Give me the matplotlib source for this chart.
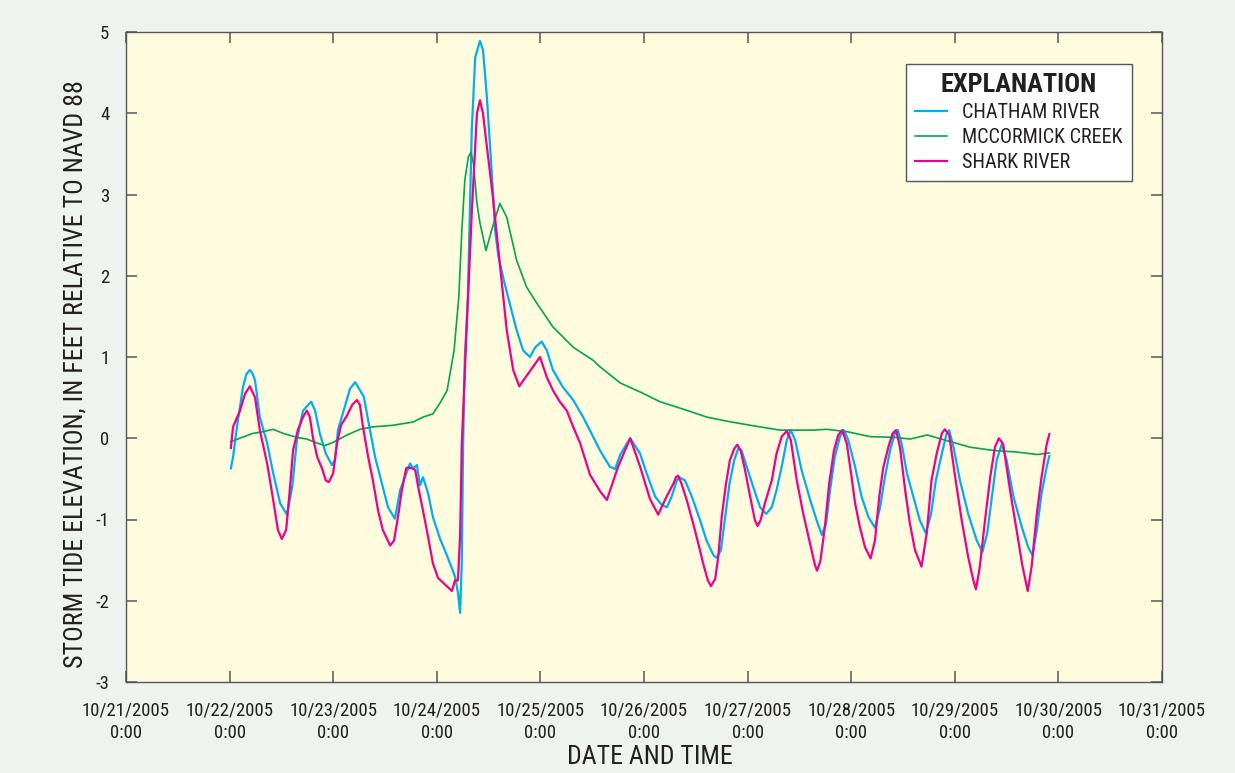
import matplotlib
matplotlib.use("Agg")
import matplotlib.pyplot as plt
import pandas as pd
from matplotlib import font_manager

# ---------------- data (hours after 10/22/2005 0:00, feet NAVD 88) ----------------
chatham_hours = [0.3, 0.8, 1.7, 3.1, 3.9, 4.7, 5.3, 5.9, 7.0, 8.7, 10.1, 11.7, 13.3, 14.5, 15.6, 17.0,
                 18.9, 19.8, 20.9, 22.3, 23.7, 24.4, 25.1, 26.7, 27.9, 29.1, 30.2, 31.1, 32.1, 33.7,
                 35.3, 36.7, 38.3, 39.5, 40.6, 41.8, 42.5, 43.4, 44.1, 44.8, 46.0, 47.1, 48.7, 50.4,
                 51.5, 52.2, 52.9, 53.4, 53.8, 54.1, 54.5, 55.2, 56.1, 56.9, 58.0, 58.7, 59.6, 60.7,
                 61.5, 62.3, 63.5, 64.5, 66.5, 68.0, 69.6, 70.8, 72.3, 73.5, 74.9, 77.2, 79.6, 81.9,
                 84.2, 85.8, 88.1, 89.3, 90.5, 92.8,
                 95.1, 96.6, 98.6, 100.1, 101.3, 102.4, 103.6, 104.2, 105.5, 107.1, 109.0, 110.5,
                 112.1, 112.8, 113.8, 114.8, 115.8, 116.9, 117.8, 118.6, 119.8, 121.3, 122.9, 124.3,
                 125.6, 126.7, 127.9, 129.1, 130.0, 131.0, 132.5, 134.5, 136.0, 137.2, 138.2, 139.1,
                 140.2, 141.4, 142.3, 143.3, 144.9, 146.4, 148.0, 149.5, 150.7, 151.8, 153.0, 154.1,
                 154.8, 155.7, 156.9, 158.4, 159.9, 161.3, 162.5, 163.6, 165.0, 166.1, 166.7, 167.7,
                 169.2, 171.1, 173.1, 174.4, 175.5, 176.6, 177.7, 178.9, 180.0, 181.6, 183.5, 185.0,
                 186.0, 187.0, 188.1, 189.3, 189.9]
chatham_ft = [-0.37, -0.23, 0.14, 0.63, 0.79, 0.84, 0.80, 0.71, 0.26, -0.06, -0.43, -0.80, -0.94,
              -0.60, -0.02, 0.34, 0.45, 0.34, 0.06, -0.19, -0.33, -0.27, 0.10, 0.39, 0.61, 0.69,
              0.59, 0.51, 0.22, -0.23, -0.56, -0.85, -0.99, -0.64, -0.48, -0.31, -0.37, -0.33,
              -0.58, -0.48, -0.68, -0.97, -1.23, -1.45, -1.60, -1.70, -1.90, -2.15, -1.50, -0.06,
              1.00, 1.74, 3.79, 4.69, 4.89, 4.78, 4.20, 3.30, 2.56, 2.23, 1.95, 1.74, 1.33, 1.08,
              1.00, 1.12, 1.19, 1.08, 0.84, 0.63, 0.47, 0.26, 0.02, -0.15, -0.35, -0.38, -0.20,
              0.00,
              -0.19, -0.43, -0.72, -0.82, -0.85, -0.72, -0.52, -0.48, -0.52, -0.72, -1.01, -1.26,
              -1.44, -1.47, -1.38, -0.97, -0.56, -0.27, -0.13, -0.15, -0.35, -0.60, -0.85, -0.93,
              -0.85, -0.64, -0.35, -0.02, 0.10, -0.02, -0.39, -0.76, -1.01, -1.19, -1.05, -0.64,
              -0.23, 0.02, 0.10, -0.02, -0.35, -0.72, -0.97, -1.10, -0.85, -0.48, -0.15, 0.06,
              0.10, -0.07, -0.43, -0.72, -1.01, -1.17, -0.93, -0.52, -0.19, 0.06, 0.10, -0.11,
              -0.52, -0.93, -1.26, -1.40, -1.17, -0.72, -0.27, -0.07, -0.27, -0.72, -1.09, -1.34,
              -1.44, -1.13, -0.68, -0.35, -0.22]

mccormick_hours = [0.3, 2.4, 5.4, 7.7, 10.1, 12.4, 15.6, 17.9, 20.3, 22.1, 24.0, 27.2, 30.2, 33.2,
                   37.9, 42.5, 44.8, 47.1, 48.7, 50.4, 52.0, 53.1, 53.8, 54.5, 55.3, 55.9, 56.5,
                   57.3, 58.0, 59.4, 60.7, 62.6, 64.2, 66.5, 68.8, 71.2, 74.9, 79.6, 84.2, 85.8,
                   90.5, 95.1, 99.7, 104.4, 110.6, 115.2, 120.6, 127.5, 135.2, 138.4, 143.1, 148.4,
                   154.4, 157.6, 161.6, 166.9, 171.5, 176.9, 182.4, 187.1, 189.9]
mccormick_ft = [-0.04, 0.00, 0.06, 0.08, 0.11, 0.06, 0.01, -0.01, -0.06, -0.09, -0.05, 0.04, 0.11,
                0.14, 0.16, 0.20, 0.26, 0.30, 0.43, 0.59, 1.08, 1.74, 2.56, 3.18, 3.46, 3.52, 3.38,
                2.89, 2.65, 2.31, 2.56, 2.89, 2.72, 2.19, 1.86, 1.66, 1.37, 1.12, 0.96, 0.88, 0.68,
                0.57, 0.45, 0.37, 0.26, 0.21, 0.16, 0.10, 0.10, 0.11, 0.08, 0.02, 0.01, -0.01, 0.04,
                -0.04, -0.11, -0.15, -0.17, -0.20, -0.18]

shark_hours = [0.3, 0.8, 2.4, 3.6, 4.7, 5.9, 7.0, 8.7, 10.1, 11.2, 12.1, 13.1, 14.0, 14.7, 15.8,
               17.0, 17.9, 18.6, 19.3, 20.3, 21.4, 22.3, 23.0, 24.0, 24.9, 25.8, 27.2, 28.4, 29.5,
               30.2, 30.9, 32.1, 33.2, 34.4, 35.5, 37.2, 38.1, 39.0, 39.9, 40.9, 41.3, 42.3, 43.0,
               43.7, 44.8, 46.0, 47.1, 48.3, 49.9, 51.5, 52.2, 52.9, 53.4, 53.8, 54.9, 56.1, 57.3,
               58.0, 58.7, 59.6, 61.0, 62.6, 64.2, 65.7, 67.1, 71.9, 73.5, 74.9, 76.5, 78.1, 79.6,
               81.2, 83.5, 85.8, 87.4, 90.0, 92.8,
               95.1, 97.4, 99.3, 100.5, 101.6, 102.8, 103.4, 103.9, 104.7, 105.9, 107.4, 108.6,
               109.7, 110.8, 111.5, 112.5, 113.2, 114.0, 115.0, 115.9, 116.9, 117.6, 118.4, 119.4,
               120.6, 121.7, 122.3, 123.0, 124.0, 125.6, 126.7, 127.9, 129.1, 130.0, 131.4, 132.9,
               134.5, 135.6, 136.1, 136.9, 137.9, 138.9, 140.0, 141.0, 141.9, 143.0, 144.1, 144.9,
               146.0, 147.2, 148.5, 149.5, 150.5, 151.4, 152.6, 153.6, 154.4, 155.3, 156.5, 157.6,
               158.8, 160.3, 161.5, 162.6, 163.8, 165.0, 165.7, 166.7, 168.1, 169.6, 171.1, 172.3,
               172.9, 173.8, 175.0, 176.2, 177.3, 178.2, 179.2, 180.8, 182.3, 183.7, 184.9, 185.8,
               187.0, 188.1, 189.3, 189.9]
shark_ft = [-0.12, 0.14, 0.34, 0.55, 0.64, 0.50, 0.10, -0.31, -0.76, -1.13, -1.24, -1.13, -0.60,
            -0.15, 0.10, 0.26, 0.34, 0.26, 0.01, -0.23, -0.37, -0.52, -0.54, -0.43, -0.06, 0.16,
            0.28, 0.41, 0.47, 0.41, 0.14, -0.23, -0.52, -0.89, -1.13, -1.32, -1.26, -0.97, -0.64,
            -0.37, -0.36, -0.37, -0.39, -0.60, -0.89, -1.22, -1.54, -1.72, -1.80, -1.88, -1.75,
            -1.75, -1.20, -0.06, 1.33, 2.77, 4.00, 4.16, 4.00, 3.59, 2.97, 2.15, 1.33, 0.84, 0.64,
            1.00, 0.75, 0.59, 0.45, 0.34, 0.14, -0.06, -0.45, -0.65, -0.76, -0.35, 0.00,
            -0.35, -0.75, -0.94, -0.80, -0.68, -0.56, -0.48, -0.46, -0.56, -0.76, -1.05, -1.30,
            -1.54, -1.75, -1.82, -1.73, -1.46, -0.97, -0.56, -0.27, -0.13, -0.08, -0.15, -0.39,
            -0.72, -1.01, -1.08, -1.01, -0.80, -0.52, -0.19, 0.02, 0.09, -0.02, -0.52, -0.93,
            -1.30, -1.56, -1.63, -1.50, -1.09, -0.56, -0.15, 0.04, 0.10, -0.07, -0.48, -0.80,
            -1.09, -1.34, -1.48, -1.26, -0.72, -0.37, -0.11, 0.06, 0.10, -0.11, -0.64, -1.05,
            -1.38, -1.58, -1.17, -0.52, -0.19, 0.06, 0.11, 0.04, -0.48, -1.01, -1.46, -1.75,
            -1.86, -1.58, -1.01, -0.48, -0.11, 0.00, -0.07, -0.64, -1.13, -1.58, -1.88, -1.58,
            -0.93, -0.48, -0.07, 0.05]

series_names = ["CHATHAM RIVER", "MCCORMICK CREEK", "SHARK RIVER"]
series_colors = ["#00AEEF", "#00A651", "#EC008C"]
tick_days = ["2005-10-21", "2005-10-22", "2005-10-23", "2005-10-24", "2005-10-25", "2005-10-26",
             "2005-10-27", "2005-10-28", "2005-10-29", "2005-10-30", "2005-10-31"]
tick_labels = ["10/21/2005\n0:00", "10/22/2005\n0:00", "10/23/2005\n0:00", "10/24/2005\n0:00",
               "10/25/2005\n0:00", "10/26/2005\n0:00", "10/27/2005\n0:00", "10/28/2005\n0:00",
               "10/29/2005\n0:00", "10/30/2005\n0:00", "10/31/2005\n0:00"]
y_ticks = [-3, -2, -1, 0, 1, 2, 3, 4, 5]

# ---------------- styling ----------------
avail = {f.name for f in font_manager.fontManager.ttflist}
fam = [f for f in ["Liberation Sans Narrow", "Roboto Condensed", "Roboto", "DejaVu Sans"] if f in avail]
plt.rcParams['font.family'] = fam + ["DejaVu Sans"]
text_color = "#231F20"

fig = plt.figure(figsize=(12.35, 7.73), dpi=100, facecolor="#EEF3EF")
ax = fig.add_axes([126/1235, 1 - 682/773, 1036/1235, 650/773])
ax.set_facecolor("#FEFBDF")

start = pd.Timestamp("2005-10-22 00:00")
data = [(chatham_hours, chatham_ft, 1.6), (mccormick_hours, mccormick_ft, 1.2), (shark_hours, shark_ft, 1.6)]
for (hrs, vals, lw), name, col in zip(data, series_names, series_colors):
    t = start + pd.to_timedelta(hrs, unit="h")
    ax.plot(t, vals, color=col, lw=lw, label=name, solid_joinstyle="round")

ticks = pd.to_datetime(tick_days)
ax.set_xlim(ticks[0], ticks[-1])
ax.set_xticks(ticks)
ax.set_xticklabels(tick_labels, fontsize=13.5, color=text_color, linespacing=1.3)
ax.set_ylim(-3, 5)
ax.set_yticks(y_ticks)
ax.set_yticklabels([str(v) for v in y_ticks], fontsize=13.5, color=text_color)
ax.tick_params(direction="in", length=8, width=1.1, top=True, right=True, color="#555555")
ax.tick_params(axis="x", pad=14)
ax.tick_params(axis="y", pad=12)
for s in ax.spines.values():
    s.set_color("#555555")
    s.set_linewidth(1.0)

ax.set_xlabel("DATE AND TIME", fontsize=18.5, color=text_color)
ax.xaxis.set_label_coords(0.506, -0.097)
ax.set_ylabel("STORM TIDE ELEVATION, IN FEET RELATIVE TO NAVD 88", fontsize=18.7,
              color=text_color)
ax.yaxis.set_label_coords(-0.037, 0.474)

leg = ax.legend(loc="upper right", bbox_to_anchor=(0.971, 0.951), title="EXPLANATION",
                fontsize=14.5, frameon=True, fancybox=False, edgecolor="#555555",
                facecolor="white", framealpha=1, handlelength=1.6, handletextpad=0.75,
                borderpad=0.45, labelspacing=0.3, borderaxespad=0)
leg.get_title().set_fontsize(19)
leg.get_title().set_fontweight("bold")
leg.get_title().set_color(text_color)
for txt in leg.get_texts():
    txt.set_color(text_color)
leg.get_frame().set_linewidth(1.0)

fig.savefig("out.png", dpi=100, facecolor=fig.get_facecolor())
